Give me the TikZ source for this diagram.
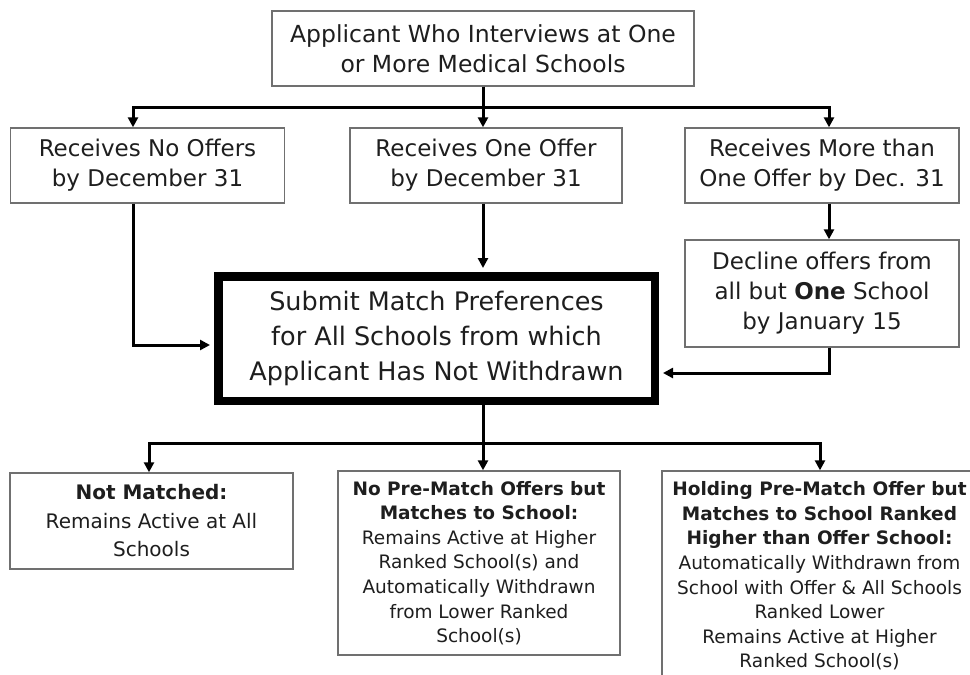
\documentclass[tikz,border=0pt]{standalone}
\usepackage{fontspec}
\setmainfont{DejaVu Sans}
\usetikzlibrary{arrows.meta}
\definecolor{boxgray}{HTML}{707070}
\definecolor{ink}{HTML}{1E1E1E}
\tikzset{
  box/.style={draw=boxgray, line width=1.4pt, fill=white, text=ink, align=center, inner sep=0pt},
  bigbox/.style={draw=black, line width=8.5pt, fill=white, text=ink, align=center, inner sep=0pt},
  conn/.style={line width=3pt, draw=black, line join=miter},
  arr/.style={conn, -{Triangle[length=10pt,width=10pt]}},
  fA/.style={font=\fontsize{23.5}{30}\selectfont},
  fB/.style={font=\fontsize{23}{30}\selectfont},
  fC/.style={font=\fontsize{25.5}{35}\selectfont},
  fD/.style={font=\fontsize{20}{28.5}\selectfont},
  fE/.style={font=\fontsize{18.5}{24.6}\selectfont},
}
\begin{document}
\begin{tikzpicture}[x=1pt,y=-1pt]
\useasboundingbox (0,0) rectangle (970,675);
\fill[white] (0,0) rectangle (970,675);
\path[clip] (0,0) rectangle (970,675);

\node[box, fA, minimum width=422pt, minimum height=75pt] (top) at (483,48.5)
  {Applicant Who Interviews at One\\or More Medical Schools};
\node[box, fB, minimum width=274pt, minimum height=75pt] (r1) at (147.5,165.5)
  {Receives No Offers\\by December 31};
\node[box, fB, minimum width=272pt, minimum height=75pt] (r2) at (486,165.5)
  {Receives One Offer\\by December 31};
\node[box, fB, minimum width=274pt, minimum height=75pt] (r3) at (822,165.5)
  {Receives More than\\One Offer by Dec. 31};
\node[box, fB, minimum width=274pt, minimum height=107pt] (dec) at (822,293.5)
  {Decline offers from\\all but \textbf{One} School\\by January 15};
\node[bigbox, fC, minimum width=436.5pt, minimum height=124.5pt] (big) at (436.5,338.5)
  {Submit Match Preferences\\for All Schools from which\\Applicant Has Not Withdrawn};
\node[box, fD, minimum width=283pt, minimum height=96pt] (b1) at (151.5,521)
  {\textbf{Not Matched:}\\Remains Active at All\\Schools};
\node[box, fE, minimum width=282pt, minimum height=184pt] (b2) at (479,563)
  {\textbf{No Pre-Match Offers but}\\\textbf{Matches to School:}\\Remains Active at Higher\\Ranked School(s) and\\Automatically Withdrawn\\from Lower Ranked\\School(s)};
\node[box, fE, minimum width=315pt, minimum height=210pt] (b3) at (819.5,576)
  {\textbf{Holding Pre-Match Offer but}\\\textbf{Matches to School Ranked}\\\textbf{Higher than Offer School:}\\Automatically Withdrawn from\\School with Offer \& All Schools\\Ranked Lower\\Remains Active at Higher\\Ranked School(s)};

% junction coordinates
\coordinate (hL) at (133,107);
\coordinate (hM) at (483,107);
\coordinate (hR) at (829,107);
\coordinate (aL) at (133,345);
\coordinate (aR) at (829,373);
\coordinate (bL) at (149,443);
\coordinate (bM) at (483,443);
\coordinate (bR) at (820,443);

% top fan-out
\draw[arr] (top.south -| hM) -- (hM) -| (hL |- r1.north);
\draw[arr] (hM) -| (hR |- r3.north);
\draw[arr] (top.south -| hM) -- (hM |- r2.north);

% into the big box
\draw[arr, shorten >=4pt] (hL |- r1.south) -- (aL) -- (aL -| big.west);
\draw[arr, shorten >=4pt] (hM |- r2.south) -- (hM |- big.north);
\draw[arr] (hR |- r3.south) -- (hR |- dec.north);
\draw[arr, shorten >=4pt] (hR |- dec.south) -- (aR) -- (aR -| big.east);

% bottom fan-out
\draw[arr] (bM |- big.south) -- (bM) -| (bL |- b1.north);
\draw[arr] (bM) -| (bR |- b3.north);
\draw[arr] (bM |- big.south) -- (bM |- b2.north);
\end{tikzpicture}
\end{document}
